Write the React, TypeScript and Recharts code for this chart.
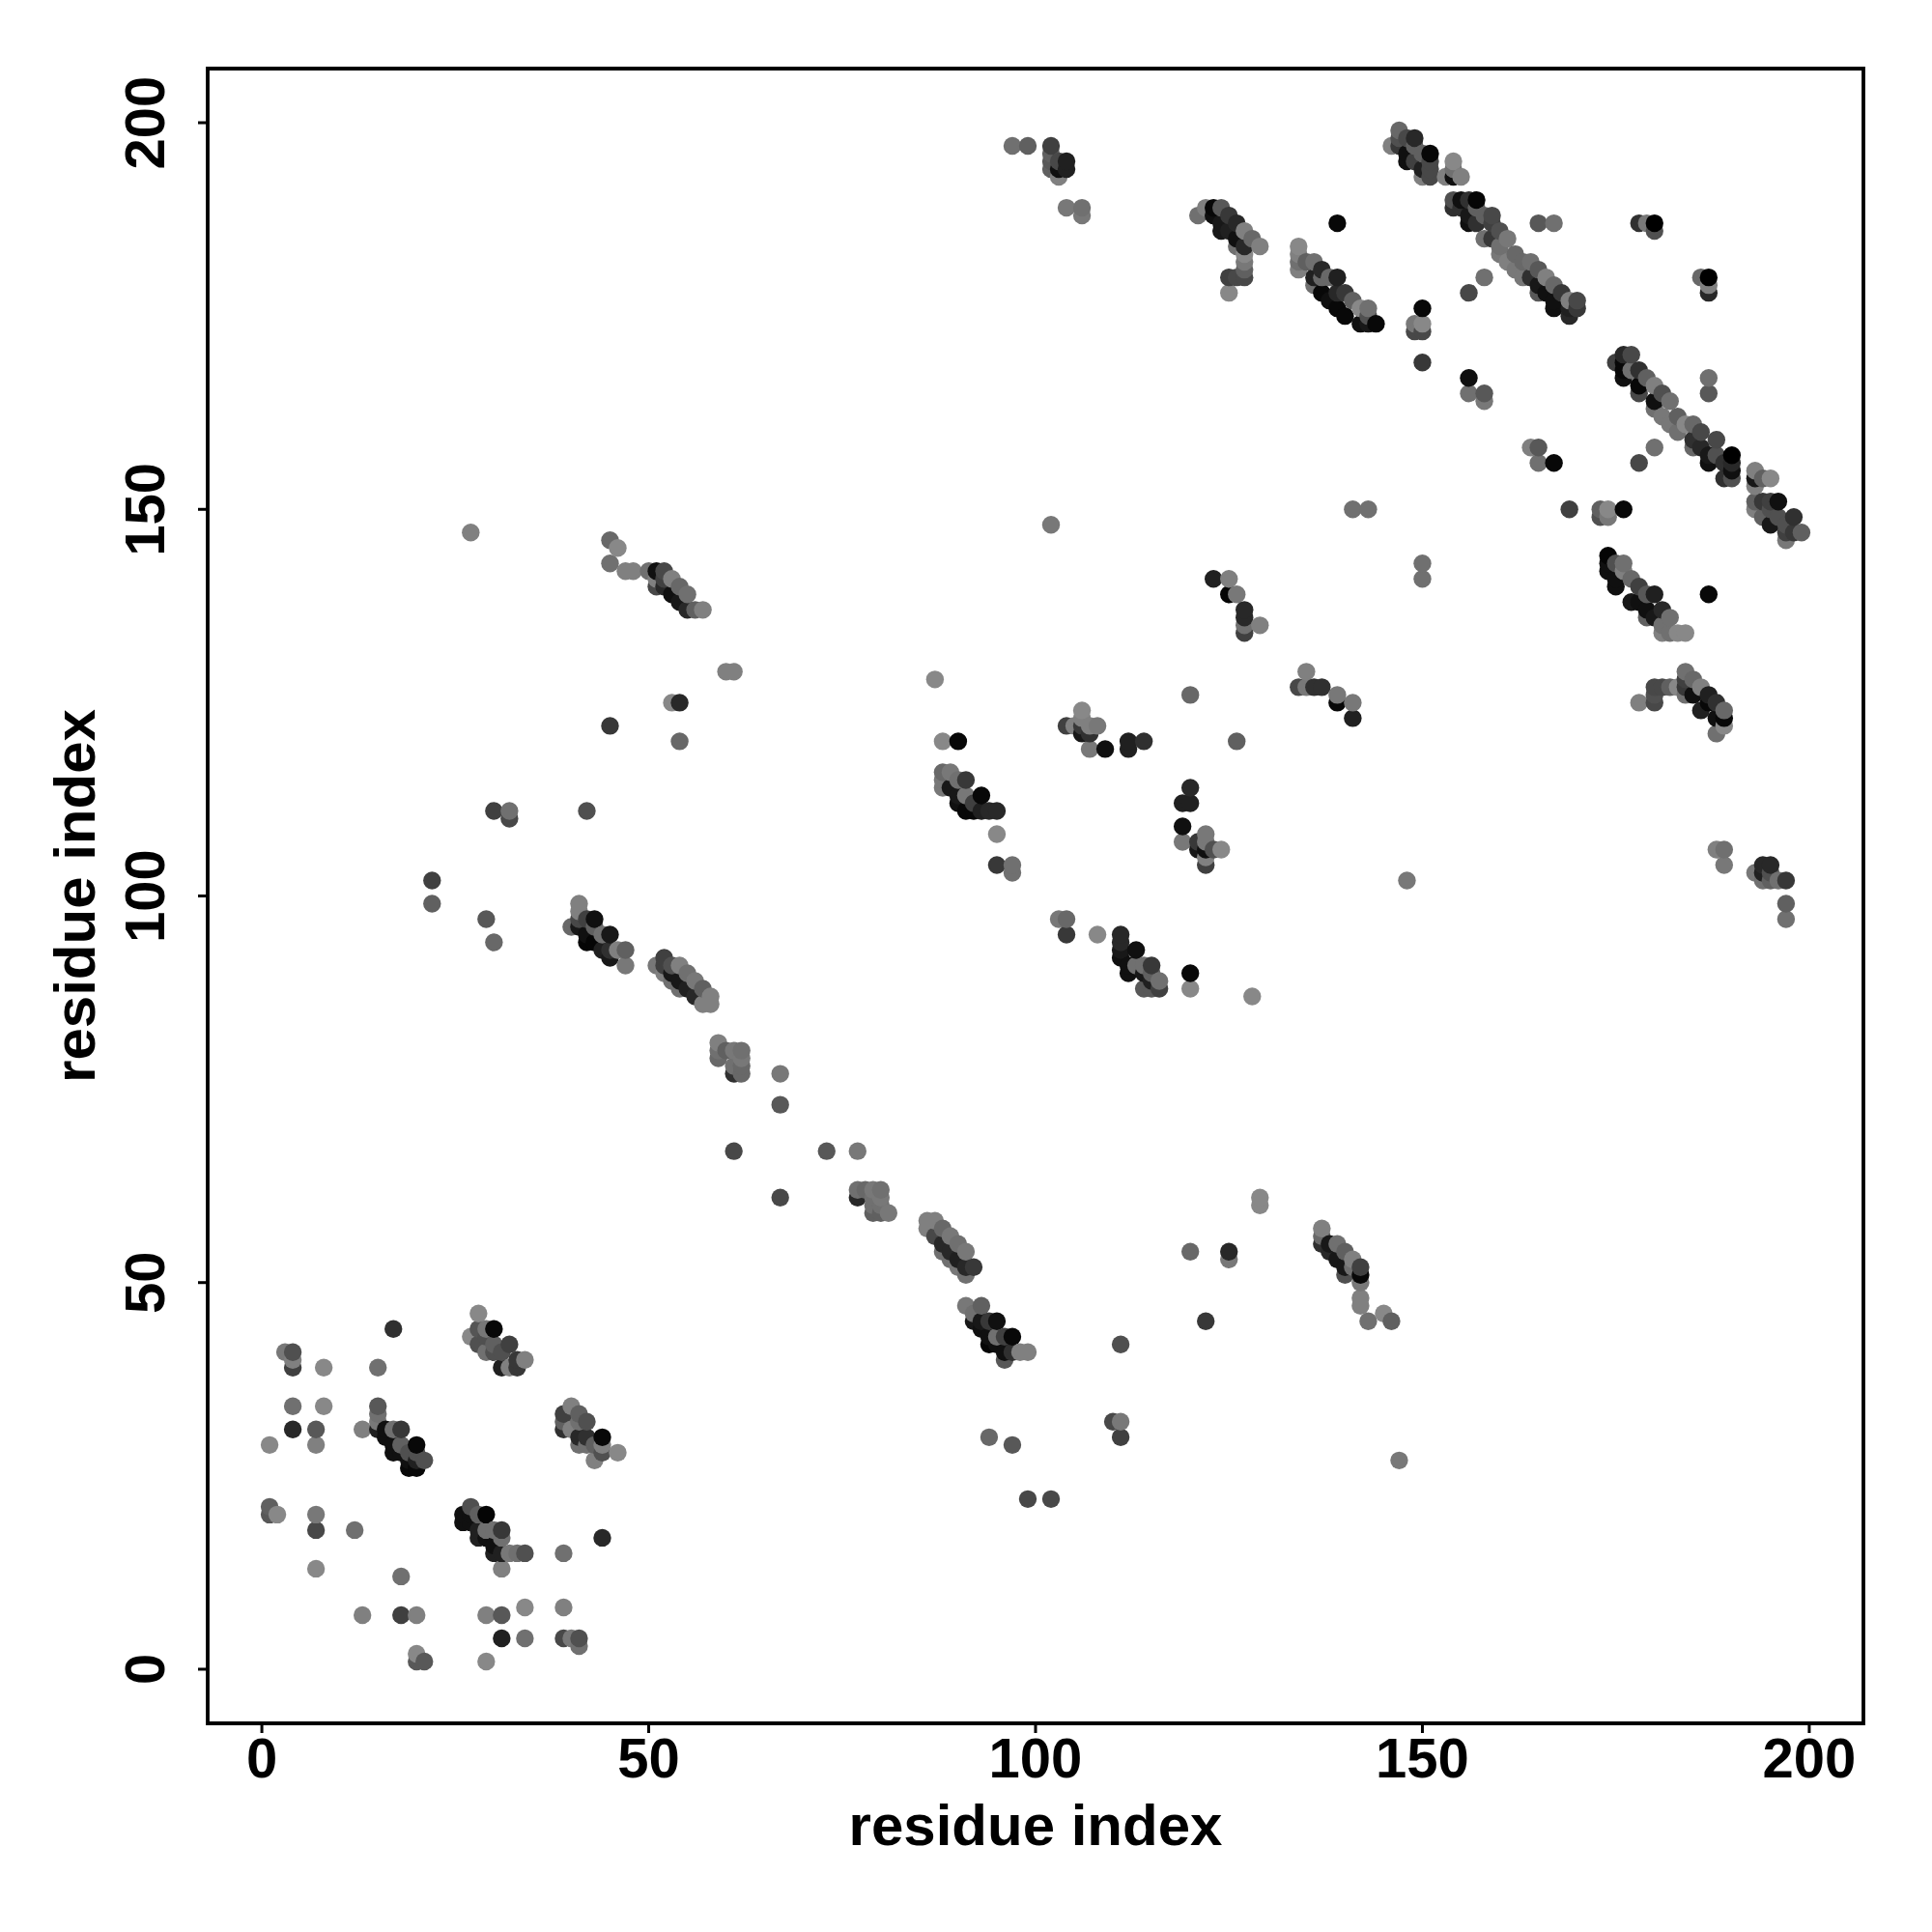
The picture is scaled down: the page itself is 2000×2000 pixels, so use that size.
import React from 'react';
import {
  ScatterChart,
  Scatter,
  XAxis,
  YAxis,
  Label,
  ReferenceArea
} from 'recharts';

// every contact is [residue i, residue j, grey level]
type Contact = [number, number, number];

const tickValues = [0, 50, 100, 150, 200];
const axisDomain = [-7, 207];
const axisTitle = 'residue index';

const lowerLeftSparse: Contact[] = [
  [17, 44, 0x30], [3, 41, 0x78], [4, 41, 0x50], [4, 40, 0x80], [4, 39, 0x40], [8, 39, 0x88], [15, 39, 0x70],
  [4, 34, 0x70], [8, 34, 0x88], [4, 31, 0x28], [7, 31, 0x58], [7, 29, 0x80], [1, 29, 0x88], [13, 31, 0x80],
  [1, 21, 0x60], [1, 20, 0x58], [2, 20, 0x88], [7, 20, 0x78], [7, 18, 0x48], [12, 18, 0x70], [7, 13, 0x88],
  [18, 12, 0x70], [13, 7, 0x80], [18, 7, 0x40], [20, 7, 0x80], [20, 2, 0x88], [20, 1, 0x58], [21, 1, 0x58],
  [29, 1, 0x88], [29, 7, 0x80], [31, 7, 0x58], [34, 8, 0x88], [31, 4, 0x20], [34, 4, 0x70], [39, 8, 0x80],
  [39, 4, 0x48], [40, 4, 0x78], [41, 4, 0x50], [41, 3, 0x70], [31, 13, 0x80], [39, 15, 0x70], [44, 17, 0x28]
];

const blockA: Contact[] = [
  [28, 46, 0x88], [27, 43, 0x88], [28, 44, 0x55], [29, 44, 0x77], [30, 44, 0x08], [29, 43, 0x50], [29, 41, 0x70],
  [28, 42, 0x50], [30, 42, 0x60], [32, 42, 0x40], [30, 41, 0x50], [31, 41, 0x50], [31, 39, 0x20], [32, 39, 0x80],
  [33, 39, 0x38], [33, 40, 0x38], [34, 40, 0x80]
];

const blockB: Contact[] = [
  [15, 34, 0x58], [15, 33, 0x70], [15, 32, 0x78], [15, 31, 0x20], [16, 31, 0x10], [17, 31, 0x70], [18, 31, 0x38],
  [16, 30, 0x10], [17, 29, 0x10], [17, 28, 0x10], [18, 29, 0x60], [18, 28, 0x10], [19, 28, 0x50], [20, 29, 0x08],
  [20, 28, 0x50], [19, 27, 0x10], [19, 26, 0x08], [20, 26, 0x08], [20, 27, 0x20], [21, 27, 0x50]
];

const blockC: Contact[] = [
  [40, 34, 0x80], [39, 33, 0x40], [39, 32, 0x60], [39, 31, 0x30], [41, 33, 0x60], [41, 32, 0x70], [42, 32, 0x50],
  [40, 31, 0x80], [41, 30, 0x28], [41, 29, 0x70], [42, 29, 0x70], [42, 30, 0x30], [43, 29, 0x60], [44, 30, 0x08],
  [44, 29, 0x80], [44, 28, 0x50], [43, 27, 0x80], [46, 28, 0x88]
];

const blockD: Contact[] = [
  [27, 21, 0x50], [26, 20, 0x10], [26, 19, 0x10], [27, 20, 0x10], [27, 19, 0x10], [28, 20, 0x60], [29, 20, 0x05],
  [28, 18, 0x20], [28, 17, 0x20], [29, 18, 0x70], [29, 17, 0x10], [30, 18, 0x70], [31, 18, 0x38], [30, 16, 0x10],
  [31, 17, 0x70], [30, 15, 0x20], [31, 15, 0x20], [32, 15, 0x78], [33, 15, 0x70], [34, 15, 0x50]
];

const midLeftSparse: Contact[] = [
  [27, 147, 0x80], [45, 146, 0x68], [46, 145, 0x88], [45, 143, 0x70], [60, 129, 0x80], [61, 129, 0x80],
  [53, 125, 0x88], [54, 125, 0x28], [45, 122, 0x38], [54, 120, 0x68], [30, 111, 0x40], [32, 111, 0x70],
  [32, 110, 0x48], [42, 111, 0x50], [22, 102, 0x40], [22, 99, 0x60], [29, 97, 0x58], [30, 94, 0x68]
];

const blockE: Contact[] = [
  [47, 142, 0x80], [48, 142, 0x80], [50, 142, 0x70], [51, 142, 0x10], [52, 142, 0x48], [51, 141, 0x80],
  [51, 140, 0x48], [52, 140, 0x28], [52, 141, 0x40], [53, 141, 0x80], [54, 140, 0x68], [55, 139, 0x70],
  [53, 139, 0x10], [54, 138, 0x18], [55, 137, 0x28], [56, 137, 0x60], [57, 137, 0x80]
];

const blockF: Contact[] = [
  [41, 99, 0x80], [41, 98, 0x80], [40, 96, 0x68], [41, 97, 0x48], [42, 97, 0x40], [43, 97, 0x10], [41, 96, 0x18],
  [42, 95, 0x10], [42, 94, 0x05], [43, 94, 0x05], [43, 96, 0x60], [44, 95, 0x70], [45, 95, 0x18], [44, 93, 0x20],
  [45, 92, 0x18], [45, 93, 0x30], [46, 93, 0x80], [47, 93, 0x60], [47, 91, 0x78]
];

const blockG: Contact[] = [
  [51, 91, 0x78], [52, 92, 0x40], [52, 91, 0x40], [53, 91, 0x50], [54, 91, 0x80], [55, 90, 0x70], [56, 89, 0x78],
  [57, 88, 0x60], [58, 87, 0x80], [58, 86, 0x80], [57, 86, 0x80], [56, 87, 0x28], [54, 88, 0x70], [53, 89, 0x70],
  [52, 90, 0x80], [55, 88, 0x20], [54, 89, 0x18], [53, 90, 0x18]
];

const blockH: Contact[] = [
  [59, 81, 0x80], [59, 80, 0x70], [59, 79, 0x68], [60, 80, 0x60], [61, 80, 0x78], [62, 80, 0x70], [62, 79, 0x78],
  [61, 78, 0x70], [62, 78, 0x68], [62, 77, 0x68], [61, 77, 0x30], [67, 77, 0x78], [67, 73, 0x58], [61, 67, 0x48],
  [73, 67, 0x58], [77, 67, 0x78], [67, 61, 0x48]
];

const blockI: Contact[] = [
  [77, 62, 0x70], [77, 61, 0x28], [78, 62, 0x68], [79, 62, 0x78], [80, 62, 0x70], [79, 61, 0x70], [80, 61, 0x78],
  [79, 59, 0x60], [80, 59, 0x60], [81, 59, 0x78], [79, 60, 0x70], [80, 60, 0x70]
];

const blockJ: Contact[] = [
  [86, 58, 0x80], [87, 58, 0x80], [86, 57, 0x80], [87, 56, 0x48], [88, 57, 0x68], [89, 56, 0x78], [90, 55, 0x70],
  [91, 54, 0x78], [92, 52, 0x38], [91, 52, 0x28], [91, 51, 0x70], [90, 52, 0x78], [89, 53, 0x70], [88, 54, 0x70],
  [88, 55, 0x28], [89, 54, 0x28], [90, 53, 0x20]
];

const blockK: Contact[] = [
  [91, 47, 0x78], [93, 47, 0x60], [92, 46, 0x70], [92, 45, 0x18], [93, 45, 0x18], [94, 45, 0x38], [95, 45, 0x10],
  [93, 44, 0x10], [94, 43, 0x10], [94, 42, 0x05], [95, 43, 0x70], [95, 42, 0x10], [96, 43, 0x40], [97, 43, 0x08],
  [96, 41, 0x10], [96, 40, 0x58], [97, 41, 0x30], [98, 41, 0x80], [99, 41, 0x80]
];

const lowerMidSparse: Contact[] = [
  [111, 42, 0x50], [122, 45, 0x38], [120, 54, 0x68], [125, 54, 0x28], [125, 53, 0x78], [129, 61, 0x88],
  [129, 60, 0x88], [120, 88, 0x88], [128, 87, 0x88], [94, 30, 0x68], [97, 29, 0x58], [111, 32, 0x78],
  [110, 32, 0x48], [111, 30, 0x40], [143, 45, 0x70], [145, 46, 0x88], [146, 45, 0x60], [147, 27, 0x78],
  [99, 22, 0x48], [102, 22, 0x48]
];

const blockL: Contact[] = [
  [137, 57, 0x80], [137, 56, 0x68], [137, 55, 0x30], [138, 55, 0x18], [139, 55, 0x70], [140, 54, 0x60],
  [141, 53, 0x80], [142, 52, 0x40], [142, 51, 0x08], [142, 50, 0x78], [140, 51, 0x50], [138, 54, 0x28],
  [139, 53, 0x18], [140, 52, 0x18], [141, 52, 0x70], [142, 48, 0x80], [142, 47, 0x80]
];

const centreSparse: Contact[] = [
  [102, 148, 0x78], [123, 141, 0x20], [125, 141, 0x80], [125, 139, 0x05], [126, 139, 0x78], [127, 137, 0x28],
  [127, 136, 0x28], [127, 135, 0x70], [127, 134, 0x40], [129, 135, 0x80], [87, 128, 0x88], [120, 126, 0x68],
  [135, 129, 0x80], [134, 127, 0x48], [135, 127, 0x78], [136, 127, 0x30], [137, 127, 0x30], [139, 126, 0x78],
  [139, 125, 0x08], [141, 125, 0x78], [141, 123, 0x20], [112, 120, 0x20], [112, 119, 0x20], [114, 120, 0x30],
  [126, 120, 0x60], [88, 120, 0x88], [90, 120, 0x08], [95, 108, 0x88], [95, 104, 0x38], [97, 104, 0x70],
  [97, 103, 0x70], [103, 97, 0x78], [104, 97, 0x68], [104, 95, 0x38], [108, 95, 0x88], [120, 90, 0x08]
];

const blockM: Contact[] = [
  [106, 124, 0x88], [106, 123, 0x80], [104, 122, 0x40], [105, 122, 0x80], [106, 122, 0x38], [108, 122, 0x78],
  [107, 122, 0x80], [106, 121, 0x18], [107, 121, 0x30], [107, 119, 0x78], [109, 119, 0x10]
];

const blockN: Contact[] = [
  [88, 116, 0x68], [89, 116, 0x78], [88, 115, 0x78], [88, 114, 0x78], [91, 115, 0x38], [90, 115, 0x70],
  [89, 114, 0x18], [90, 113, 0x18], [91, 113, 0x78], [93, 113, 0x08], [90, 112, 0x10], [91, 111, 0x08],
  [92, 111, 0x08], [93, 111, 0x20], [94, 111, 0x28], [95, 111, 0x28], [92, 112, 0x40]
];

const blockO: Contact[] = [
  [120, 114, 0x28], [119, 112, 0x20], [120, 112, 0x20], [119, 109, 0x10], [119, 107, 0x78], [121, 107, 0x38],
  [122, 108, 0x78], [122, 107, 0x78], [121, 106, 0x18], [122, 106, 0x10], [123, 106, 0x50], [124, 106, 0x88],
  [122, 105, 0x80], [122, 104, 0x40]
];

const blockP: Contact[] = [
  [111, 95, 0x28], [111, 94, 0x28], [111, 93, 0x18], [111, 92, 0x10], [113, 93, 0x10], [112, 91, 0x10],
  [112, 90, 0x10], [115, 91, 0x38], [116, 89, 0x70], [114, 91, 0x70], [114, 88, 0x58], [116, 88, 0x40],
  [115, 88, 0x58], [114, 90, 0x18], [113, 91, 0x70], [115, 90, 0x60], [115, 89, 0x20]
];

const upperMidSparse: Contact[] = [
  [97, 197, 0x70], [99, 197, 0x60], [102, 197, 0x40], [102, 196, 0x60], [102, 195, 0x58], [102, 194, 0x60],
  [103, 193, 0x80], [103, 195, 0x48], [103, 194, 0x10], [104, 195, 0x20], [104, 194, 0x20], [104, 189, 0x78],
  [106, 189, 0x70], [106, 188, 0x78], [139, 187, 0x08], [150, 176, 0x08], [149, 174, 0x78], [150, 174, 0x88],
  [149, 173, 0x48], [150, 173, 0x48], [150, 169, 0x38], [141, 150, 0x70], [143, 150, 0x70], [150, 143, 0x70],
  [150, 141, 0x70], [148, 102, 0x78]
];

const blockQ: Contact[] = [
  [121, 188, 0x70], [122, 189, 0x80], [123, 189, 0x08], [124, 189, 0x58], [123, 188, 0x10], [124, 187, 0x18],
  [125, 188, 0x38], [126, 187, 0x28], [124, 186, 0x18], [125, 186, 0x20], [127, 186, 0x80], [128, 185, 0x68],
  [129, 184, 0x80], [126, 184, 0x70], [126, 185, 0x10], [127, 184, 0x28], [127, 183, 0x88], [127, 182, 0x78],
  [127, 181, 0x60], [127, 180, 0x48], [126, 180, 0x48], [125, 180, 0x40], [125, 178, 0x88]
];

const blockR: Contact[] = [
  [134, 184, 0x88], [134, 183, 0x80], [134, 182, 0x70], [134, 181, 0x80], [135, 182, 0x60], [136, 182, 0x70],
  [137, 181, 0x28], [136, 180, 0x20], [136, 179, 0x70], [137, 180, 0x68], [139, 180, 0x20], [138, 180, 0x68],
  [137, 178, 0x08], [138, 177, 0x10], [139, 178, 0x28], [140, 178, 0x38], [141, 177, 0x60], [140, 175, 0x08],
  [139, 176, 0x08], [142, 176, 0x88], [143, 176, 0x70], [143, 175, 0x50], [142, 174, 0x10], [144, 174, 0x08],
  [143, 174, 0x18]
];

const blockS: Contact[] = [
  [147, 199, 0x68], [146, 197, 0x80], [147, 198, 0x50], [147, 197, 0x38], [148, 198, 0x48], [149, 198, 0x28],
  [148, 196, 0x10], [149, 197, 0x60], [148, 195, 0x10], [149, 195, 0x40], [150, 196, 0x60], [151, 196, 0x08],
  [150, 194, 0x20], [151, 195, 0x48], [151, 194, 0x48], [151, 193, 0x48], [150, 193, 0x80], [154, 195, 0x88],
  [154, 194, 0x70], [153, 193, 0x80], [154, 193, 0x10], [155, 193, 0x80]
];

const blockT: Contact[] = [
  [154, 190, 0x50], [155, 190, 0x10], [156, 190, 0x30], [157, 190, 0x05], [154, 189, 0x30], [155, 189, 0x30],
  [156, 188, 0x18], [157, 189, 0x60], [159, 188, 0x48], [158, 188, 0x60], [156, 187, 0x10], [157, 187, 0x30],
  [159, 187, 0x40], [160, 186, 0x50], [158, 185, 0x70], [159, 185, 0x38], [161, 185, 0x78], [160, 184, 0x70],
  [160, 183, 0x78], [162, 183, 0x68], [161, 182, 0x80], [163, 182, 0x68], [162, 181, 0x78], [164, 182, 0x70],
  [165, 181, 0x58], [163, 180, 0x78], [166, 180, 0x80], [164, 180, 0x30], [165, 179, 0x18], [167, 179, 0x68],
  [165, 178, 0x58], [166, 178, 0x10], [168, 178, 0x38], [167, 177, 0x10], [167, 176, 0x10], [169, 177, 0x80],
  [170, 177, 0x48], [170, 176, 0x38], [169, 176, 0x20], [169, 175, 0x28]
];

const upperRightSparse: Contact[] = [
  [165, 187, 0x58], [167, 187, 0x70], [158, 180, 0x70], [156, 178, 0x48], [178, 187, 0x30], [179, 187, 0x78],
  [180, 187, 0x00], [180, 186, 0x50], [186, 180, 0x68], [187, 180, 0x00], [187, 179, 0x80], [187, 178, 0x28],
  [156, 167, 0x10], [156, 165, 0x70], [158, 165, 0x58], [158, 164, 0x78], [187, 167, 0x70], [187, 165, 0x58],
  [164, 158, 0x80], [165, 158, 0x58], [165, 156, 0x70], [167, 156, 0x08], [180, 158, 0x70], [178, 156, 0x48],
  [169, 150, 0x40], [173, 150, 0x60], [174, 150, 0x88], [176, 150, 0x08], [173, 149, 0x50], [174, 149, 0x78],
  [187, 139, 0x08]
];

const blockU: Contact[] = [
  [175, 169, 0x40], [176, 170, 0x28], [177, 170, 0x48], [176, 169, 0x08], [176, 168, 0x08], [176, 167, 0x10],
  [178, 168, 0x30], [177, 168, 0x70], [179, 167, 0x60], [180, 166, 0x80], [178, 166, 0x08], [178, 165, 0x48],
  [181, 165, 0x50], [182, 164, 0x70], [180, 164, 0x10], [180, 163, 0x70], [181, 162, 0x78], [183, 162, 0x60],
  [182, 161, 0x78], [184, 161, 0x88], [185, 161, 0x68], [183, 160, 0x70], [186, 160, 0x48], [185, 159, 0x30],
  [185, 158, 0x68], [188, 159, 0x48], [186, 158, 0x28], [187, 157, 0x18], [187, 156, 0x10], [189, 156, 0x30],
  [190, 157, 0x00], [190, 156, 0x28], [190, 155, 0x10], [189, 154, 0x30], [190, 154, 0x50], [188, 157, 0x50]
];

const blockV: Contact[] = [
  [193, 155, 0x80], [193, 154, 0x18], [193, 153, 0x80], [194, 154, 0x60], [195, 154, 0x88], [193, 151, 0x60],
  [193, 150, 0x80], [194, 151, 0x38], [195, 151, 0x40], [196, 151, 0x10], [194, 149, 0x60], [195, 150, 0x50],
  [195, 148, 0x18], [196, 149, 0x50], [197, 148, 0x50], [198, 149, 0x30], [197, 146, 0x78], [197, 147, 0x40],
  [198, 147, 0x38], [199, 147, 0x60]
];

const blockW: Contact[] = [
  [174, 144, 0x05], [174, 143, 0x10], [174, 142, 0x10], [175, 143, 0x50], [176, 143, 0x70], [175, 141, 0x10],
  [175, 140, 0x10], [176, 142, 0x80], [177, 141, 0x68], [178, 140, 0x40], [177, 138, 0x18], [179, 139, 0x58],
  [180, 139, 0x20], [178, 138, 0x10], [179, 137, 0x10], [179, 136, 0x60], [181, 137, 0x28], [180, 136, 0x18],
  [181, 135, 0x70], [182, 136, 0x70], [181, 134, 0x80], [182, 134, 0x70], [183, 134, 0x88], [184, 134, 0x88]
];

const blockX: Contact[] = [
  [178, 125, 0x80], [180, 127, 0x48], [180, 126, 0x50], [180, 125, 0x48], [181, 127, 0x48], [182, 127, 0x60],
  [183, 127, 0x88], [184, 129, 0x70], [184, 128, 0x40], [184, 127, 0x38], [184, 126, 0x70], [185, 128, 0x68],
  [186, 127, 0x80], [185, 126, 0x10], [186, 124, 0x20], [187, 126, 0x20], [188, 125, 0x30], [187, 125, 0x08],
  [188, 123, 0x10], [189, 124, 0x68], [189, 123, 0x08], [189, 122, 0x88], [188, 121, 0x70]
];

const blockY: Contact[] = [
  [188, 106, 0x80], [189, 106, 0x70], [189, 104, 0x78], [193, 103, 0x78], [194, 104, 0x28], [195, 104, 0x28],
  [194, 103, 0x20], [194, 102, 0x70], [195, 102, 0x60], [196, 102, 0x70], [197, 102, 0x38], [195, 103, 0x50],
  [197, 99, 0x60], [197, 97, 0x70]
];

// the original plots column by column, so later columns sit on top
const contacts = [
  lowerLeftSparse, blockA, blockB, blockC, blockD, midLeftSparse, blockE, blockF, blockG, blockH, blockI,
  blockJ, blockK, lowerMidSparse, blockL, centreSparse, blockM, blockN, blockO, blockP, upperMidSparse,
  blockQ, blockR, blockS, blockT, upperRightSparse, blockU, blockV, blockW, blockX, blockY
]
  .flat()
  .sort((a, b) => a[0] - b[0] || a[1] - b[1])
  .map(([i, j, grey]) => ({ i, j, grey }));

const font = '"Liberation Sans", Arial, sans-serif';

const ContactDot = ({ cx, cy, payload }: any) => (
  <circle cx={cx} cy={cy} r={9.2} fill={`rgb(${payload.grey},${payload.grey},${payload.grey})`} />
);

const XTick = ({ x, y, payload }: any) => (
  <text x={x} y={y + 44} textAnchor="middle" fontFamily={font} fontWeight="bold" fontSize={58} fill="#000">
    {payload.value}
  </text>
);

const YTick = ({ x, y, payload }: any) => (
  <text
    transform={`translate(170, ${y}) rotate(-90)`}
    textAnchor="middle"
    fontFamily={font}
    fontWeight="bold"
    fontSize={58}
    fill="#000"
  >
    {payload.value}
  </text>
);

const XTitle = ({ viewBox }: any) => (
  <text
    x={viewBox.x + viewBox.width / 2}
    y={1910}
    textAnchor="middle"
    fontFamily={font}
    fontWeight="bold"
    fontSize={60}
    fill="#000"
  >
    {axisTitle}
  </text>
);

const YTitle = ({ viewBox }: any) => (
  <text
    transform={`translate(98, ${viewBox.y + viewBox.height / 2}) rotate(-90)`}
    textAnchor="middle"
    fontFamily={font}
    fontWeight="bold"
    fontSize={60}
    fill="#000"
  >
    {axisTitle}
  </text>
);

export default function App() {
  return (
    <div style={{ position: 'absolute', left: 0, top: 0, width: 2000, height: 2000, background: '#fff' }}>
      <ScatterChart width={2000} height={2000} margin={{ top: 71, right: 71, bottom: 0, left: 0 }}>
        <XAxis
          type="number"
          dataKey="i"
          domain={axisDomain}
          ticks={tickValues}
          allowDataOverflow
          height={216}
          interval={0}
          axisLine={false}
          tickSize={10}
          tickLine={{ stroke: '#000', strokeWidth: 3 }}
          tick={<XTick />}
        >
          <Label content={<XTitle />} />
        </XAxis>
        <YAxis
          type="number"
          dataKey="j"
          domain={axisDomain}
          ticks={tickValues}
          allowDataOverflow
          width={215}
          interval={0}
          axisLine={false}
          tickSize={10}
          tickLine={{ stroke: '#000', strokeWidth: 3 }}
          tick={<YTick />}
        >
          <Label content={<YTitle />} />
        </YAxis>
        <Scatter data={contacts} shape={<ContactDot />} isAnimationActive={false} />
        <ReferenceArea
          x1={axisDomain[0]}
          x2={axisDomain[1]}
          y1={axisDomain[0]}
          y2={axisDomain[1]}
          fill="none"
          stroke="#000"
          strokeWidth={3.8}
          ifOverflow="visible"
        />
      </ScatterChart>
    </div>
  );
}
